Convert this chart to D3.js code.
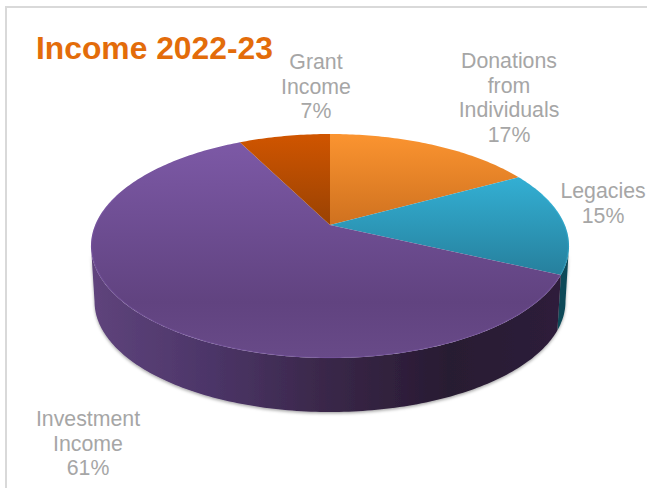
<!DOCTYPE html>
<html>
<head>
<meta charset="utf-8">
<script src="https://d3js.org/d3.v7.min.js"></script>
<style>
  html, body { margin: 0; padding: 0; background: #fff; }
  svg { display: block; }
  text { font-family: "Liberation Sans", Arial, sans-serif; }
</style>
</head>
<body>
<svg id="chart" width="647" height="488"></svg>
<script>
const categories = ['Donations from Individuals', 'Legacies', 'Investment Income', 'Grant Income'];
const values = [17, 15, 60.6, 7.4];
const labelLines = [['Donations', 'from', 'Individuals'], ['Legacies'], ['Investment', 'Income'], ['Grant', 'Income']];
const topColors = [['#fb9430', '#cf711f'], ['#33afd3', '#267f9c'], ['#7e5aa8', '#6a4a88'], ['#d05500', '#994203']];
const sideColors = ['#8a4a10', '#0f4a58', '#5c4179', '#7a3500'];

const width = 647, height = 488;
const svg = d3.select('#chart');
const defs = svg.append('defs');

// apex of the pie on screen, the disc is drawn in perspective so it is not the ellipse centre
const apexX = 330, apexY = 225;
const perspective = 0.1875, scaleX = 234.8, scaleY = 108.06;
const depth = 56, bottomScale = 0.985;

function project(angle, shift = 0, s = 1) {
  const u = Math.sin(angle), v = Math.cos(angle);
  const w = 1 + perspective * v;
  return [apexX + s * scaleX * u / w, apexY + shift - s * scaleY * v / w];
}

const pie = d3.pie().sort(null).value(d => d);
const arcs = pie(values);

function arcPoints(a0, a1, shift, s) {
  const n = Math.max(2, Math.ceil((a1 - a0) * 60));
  return d3.range(n + 1).map(i => project(a0 + (a1 - a0) * i / n, shift, s));
}

const line = d3.line();

// frame, the right and bottom edges fall outside the picture
svg.append('rect')
  .attr('x', 6).attr('y', 7)
  .attr('width', width + 10).attr('height', height + 10)
  .attr('fill', '#fff')
  .attr('stroke', '#d9d9d9')
  .attr('stroke-width', 2);

// gradients
const sideGrad = defs.append('linearGradient')
  .attr('id', 'side-purple')
  .attr('gradientUnits', 'userSpaceOnUse')
  .attr('x1', 91).attr('x2', 568).attr('y1', 0).attr('y2', 0);
[[0, '#5f447c'], [0.25, '#4c3568'], [0.5, '#392748'], [0.75, '#281a32'], [1, '#2e1f3b']].forEach(s => {
  sideGrad.append('stop').attr('offset', s[0]).attr('stop-color', s[1]);
});

const gradientY = [[134, 225], [178, 276], [134, 358], [134, 225]];
topColors.forEach((c, i) => {
  const g = defs.append('linearGradient')
    .attr('id', `top-${i}`)
    .attr('gradientUnits', 'userSpaceOnUse')
    .attr('x1', 0).attr('x2', 0)
    .attr('y1', gradientY[i][0]).attr('y2', gradientY[i][1]);
  if (i === 2) {
    [[0, '#7e5aa8'], [0.45, '#6c4c90'], [0.75, '#614380'], [1, '#684a88']].forEach(s => {
      g.append('stop').attr('offset', s[0]).attr('stop-color', s[1]);
    });
  } else {
    g.append('stop').attr('offset', 0).attr('stop-color', c[0]);
    g.append('stop').attr('offset', 1).attr('stop-color', c[1]);
  }
});

const shadow = defs.append('filter')
  .attr('id', 'soft-shadow')
  .attr('x', '-5%').attr('y', '-5%').attr('width', '110%').attr('height', '115%');
shadow.append('feDropShadow')
  .attr('dx', 0).attr('dy', 1.5)
  .attr('stdDeviation', 1.5)
  .attr('flood-color', '#000')
  .attr('flood-opacity', 0.35);

// visible side wall, only the front part of the disc between its widest points
const wall = svg.append('g').attr('filter', 'url(#soft-shadow)');
const wallStart = Math.acos(-perspective), wallEnd = 2 * Math.PI - wallStart;

arcs.forEach((d, i) => {
  const a0 = Math.max(d.startAngle, wallStart);
  const a1 = Math.min(d.endAngle, wallEnd);
  if (a1 <= a0) return;
  const top = arcPoints(a0, a1, 0, 1);
  const bottom = arcPoints(a0, a1, depth, bottomScale).reverse();
  wall.append('path')
    .attr('d', line(top.concat(bottom)) + 'Z')
    .attr('fill', i === 2 ? 'url(#side-purple)' : sideColors[i]);
});

// top faces
arcs.forEach((d, i) => {
  const pts = arcPoints(d.startAngle, d.endAngle, 0, 1);
  svg.append('path')
    .attr('class', 'slice')
    .attr('d', line([[apexX, apexY]].concat(pts)) + 'Z')
    .attr('fill', `url(#top-${i})`);
});

// soft light along the front rim
arcs.forEach((d, i) => {
  const a0 = Math.max(d.startAngle, wallStart - 0.5);
  const a1 = Math.min(d.endAngle, wallEnd + 0.5);
  if (a1 <= a0) return;
  svg.append('path')
    .attr('d', line(arcPoints(a0, a1, 0, 0.997)))
    .attr('fill', 'none')
    .attr('stroke', d3.color(topColors[i][0]).brighter(0.4))
    .attr('stroke-opacity', 0.25)
    .attr('stroke-width', 1.2);
});

// labels
const labelPos = [[509, 68], [603, 198], [88, 426], [316, 69]];
const lineStep = 24.5;
categories.forEach((name, i) => {
  const lines = labelLines[i].concat([`${Math.round(values[i])}%`]);
  const t = svg.append('text')
    .attr('text-anchor', 'middle')
    .attr('font-size', 21.3)
    .attr('fill', '#a6a6a6')
    .attr('aria-label', name);
  lines.forEach((l, j) => {
    t.append('tspan')
      .attr('x', labelPos[i][0])
      .attr('y', labelPos[i][1] + j * lineStep)
      .text(l);
  });
});

// title
svg.append('text')
  .attr('x', 36).attr('y', 59)
  .attr('font-size', 31.8)
  .attr('font-weight', 'bold')
  .attr('fill', '#e36c0a')
  .text('Income 2022-23');
</script>
</body>
</html>
